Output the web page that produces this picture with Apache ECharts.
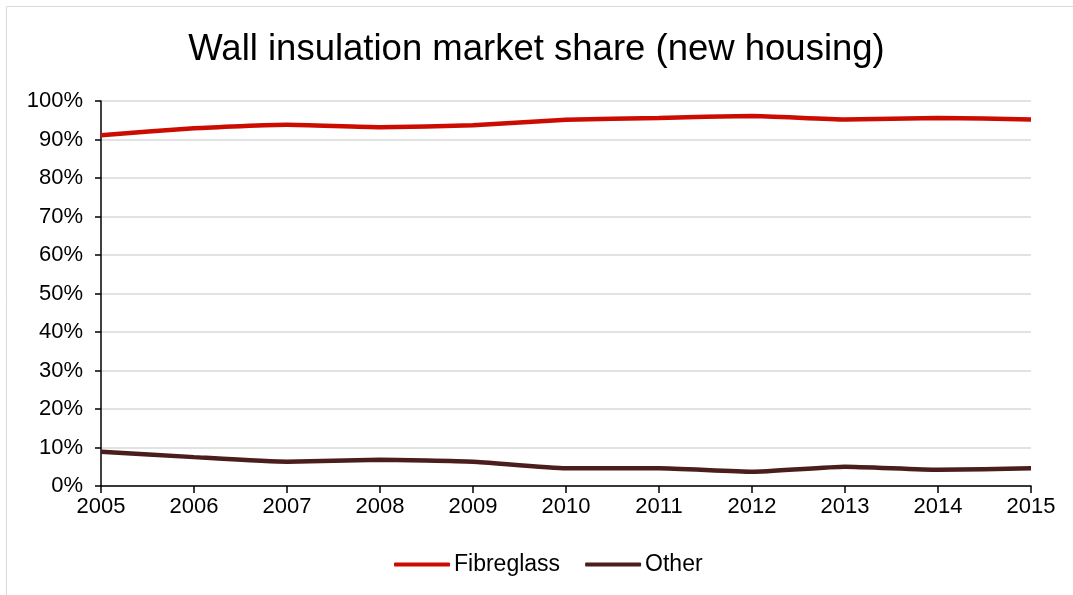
<!DOCTYPE html>
<html>
<head>
<meta charset="utf-8">
<script src="https://cdn.jsdelivr.net/npm/echarts@6/dist/echarts.min.js"></script>
<style>
  html, body { margin: 0; padding: 0; background: #fff; }
  #chart { width: 1073px; height: 595px; }
</style>
</head>
<body>
<div id="chart"></div>
<script>
const years = ['2005', '2006', '2007', '2008', '2009', '2010', '2011', '2012', '2013', '2014', '2015']
// share in %
const fibreglass = [91.1, 92.9, 93.8, 93.2, 93.7, 95.1, 95.6, 96.1, 95.2, 95.6, 95.2]
const other = [8.9, 7.5, 6.3, 6.8, 6.3, 4.6, 4.6, 3.7, 5.0, 4.2, 4.6]

const font = 'Liberation Sans, Arial, sans-serif'

let myChart = echarts.init(document.getElementById('chart'))
myChart.setOption({
  animation: false,
  textStyle: { fontFamily: font },
  graphic: [{
    type: 'rect',
    shape: { x: 6.5, y: 6.5, width: 1200, height: 700 },
    style: { fill: 'none', stroke: '#d9d9d9', lineWidth: 1 },
    silent: true
  }],
  title: {
    text: 'Wall insulation market share (new housing)',
    left: 'center',
    top: 26,
    textStyle: { fontFamily: font, fontSize: 36.5, fontWeight: 'normal', color: '#000' }
  },
  legend: {
    bottom: 14,
    left: 389,
    itemWidth: 56,
    itemHeight: 4,
    itemGap: 25,
    icon: 'roundRect',
    textStyle: { fontFamily: font, fontSize: 23, color: '#000', padding: [0, 0, 0, -1] },
    data: ['Fibreglass', 'Other']
  },
  grid: { left: 101, right: 42, top: 101, bottom: 109 },
  xAxis: {
    type: 'category',
    data: years,
    boundaryGap: false,
    axisLine: { lineStyle: { color: '#000', width: 1.5 } },
    axisTick: { length: 7, lineStyle: { color: '#000', width: 1.5 } },
    axisLabel: { fontFamily: font, fontSize: 22, color: '#000', margin: 10 },
    splitLine: { show: false }
  },
  yAxis: {
    type: 'value',
    min: 0,
    max: 100,
    interval: 10,
    axisLine: { show: true, lineStyle: { color: '#000', width: 1.5 } },
    axisTick: { show: true, length: 6, lineStyle: { color: '#000', width: 1.5 } },
    axisLabel: { fontFamily: font, fontSize: 22, color: '#000', margin: 18, formatter: '{value}%' },
    splitLine: { lineStyle: { color: '#d9d9d9', width: 1.5 } }
  },
  series: [
    {
      name: 'Fibreglass',
      type: 'line',
      data: fibreglass,
      showSymbol: false,
      symbol: 'none',
      smooth: 0.15,
      color: '#cc0c00',
      lineStyle: { width: 4.5, color: '#cc0c00' }
    },
    {
      name: 'Other',
      type: 'line',
      data: other,
      showSymbol: false,
      symbol: 'none',
      smooth: 0.15,
      color: '#4b1d1d',
      lineStyle: { width: 4.5, color: '#4b1d1d' }
    }
  ]
})
</script>
</body>
</html>
